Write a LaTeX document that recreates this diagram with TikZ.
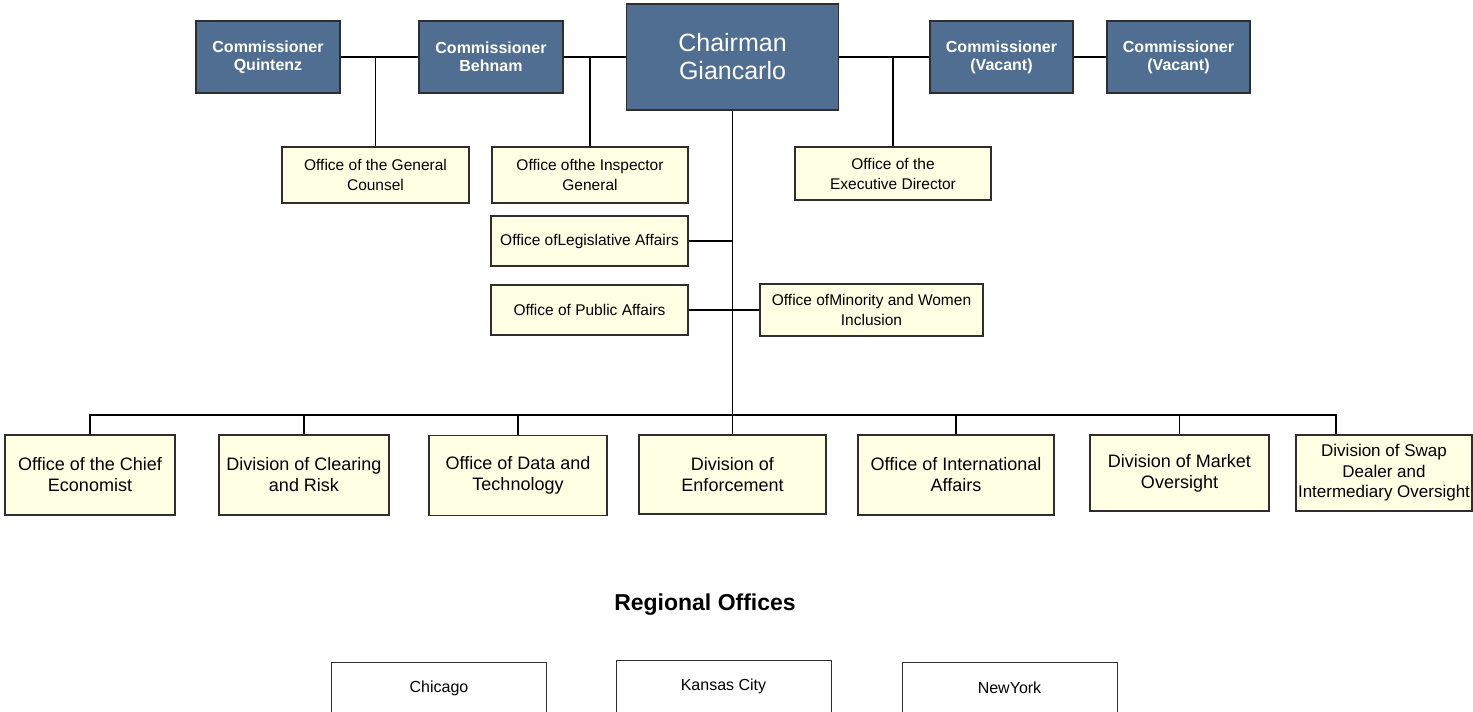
\documentclass[tikz,border=0pt]{standalone}
\usepackage{fontspec}
\setmainfont{Liberation Sans}
\usepackage{xcolor}
\usetikzlibrary{shapes.geometric, arrows, positioning}
\definecolor{boardblue}{HTML}{4F6E92}
\definecolor{officecream}{HTML}{FFFFE3}
\definecolor{edgegray}{HTML}{2E2E2E}

\begin{document}
\begin{tikzpicture}[x=1pt, y=-1pt]
\tikzstyle{board} = [rectangle, draw=edgegray, line width=1.6pt, fill=boardblue, text=white, minimum width=144pt, minimum height=72pt, inner sep=0pt, align=center, font=\bfseries\fontsize{16}{18}\selectfont]
\tikzstyle{office} = [rectangle, draw=edgegray, line width=1.6pt, fill=officecream, minimum height=56pt, inner sep=0pt, align=center, font=\fontsize{15.5}{20}\selectfont]
\tikzstyle{division} = [office, minimum height=80pt, font=\fontsize{18}{21}\selectfont]
\tikzstyle{region} = [rectangle, draw=edgegray, line width=1pt, minimum width=215pt, minimum height=52pt, inner sep=0pt, font=\fontsize{16}{18}\selectfont]
\tikzstyle{link} = [line width=1.4pt, black]

\useasboundingbox (0,0) rectangle (1473,712);

% commission
\node (quintenz) [board] at (268,57) {Commissioner\\Quintenz};
\node (behnam) [board] at (491,57) {Commissioner\\Behnam};
\node (chairman) [board, minimum width=212pt, minimum height=106pt, font=\fontsize{25}{28}\selectfont] at (732.5,57) {Chairman\\Giancarlo};
\node (vacantA) [board, minimum width=143pt] at (1001.5,57) {Commissioner\\(Vacant)};
\node (vacantB) [board, minimum width=143pt] at (1178.5,57) {Commissioner\\(Vacant)};

% offices
\node (counsel) [office, minimum width=187pt] at (375.5,175) {Office of the General\\Counsel};
\node (inspector) [office, minimum width=196pt] at (590,175) {Office ofthe Inspector\\General};
\node (execdir) [office, minimum width=196pt, minimum height=53pt] at (893,173.5) {Office of the\\Executive Director};
\node (legis) [office, minimum width=197pt, minimum height=50pt] at (589.5,241) {Office ofLegislative Affairs};
\node (public) [office, minimum width=197pt, minimum height=50pt] at (589.5,310) {Office of Public Affairs};
\node (minority) [office, minimum width=223pt, minimum height=52pt] at (871.5,310) {Office ofMinority and Women\\Inclusion};

% divisions
\node (chiefecon) [division, minimum width=170pt] at (90,475) {Office of the Chief\\Economist};
\node (clearing) [division, minimum width=170pt] at (304,475) {Division of Clearing\\and Risk};
\node (datatech) [division, minimum width=178pt] at (518,475.5) {Office of Data and\\Technology};
\node (enforce) [division, minimum width=187pt, minimum height=79pt] at (732.5,474.5) {Division of\\Enforcement};
\node (intl) [division, minimum width=196pt] at (956,475) {Office of International\\Affairs};
\node (market) [division, minimum width=179pt, minimum height=76pt] at (1179.5,473) {Division of Market\\Oversight};
\node (swap) [division, minimum width=176pt, minimum height=76pt, font=\fontsize{17}{20.5}\selectfont] at (1384,473) {Division of Swap\\Dealer and\\Intermediary Oversight};

% regional offices
\node (regional) [font=\bfseries\fontsize{23}{26}\selectfont] at (705,605) {Regional Offices};
\node (chicago) [region] at (439,688) {Chicago};
\node (kansas) [region] at (723.5,686) {Kansas City};
\node (newyork) [region] at (1009.5,688) {NewYork};

\coordinate (bus) at (732.5,415);
\coordinate (swaptop) at ([xshift=-48]swap.north);

\draw [link] (quintenz) -- (behnam);
\draw [link] (behnam) -- (chairman);
\draw [link] (chairman) -- (vacantA);
\draw [link] (vacantA) -- (vacantB);
\draw [link] (counsel) -- (counsel |- quintenz);
\draw [link] (inspector) -- (inspector |- behnam);
\draw [link] (execdir) -- (execdir |- chairman);
\draw [link] (chairman) -- (enforce);
\draw [link] (legis) -- (legis -| chairman);
\draw [link] (public) -- (minority);
\draw [link] (chiefecon.north) |- (swaptop |- bus) -- (swaptop);
\foreach \n in {clearing, datatech, intl, market}
  \draw [link] (\n.north) -- (\n.north |- bus);
\end{tikzpicture}
\end{document}
